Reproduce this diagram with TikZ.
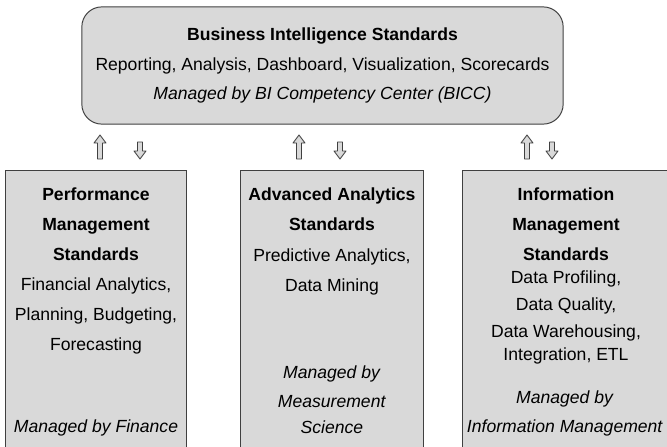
\documentclass[tikz,border=0pt]{standalone}
\usepackage{fontspec}
\setmainfont{Liberation Sans}
\usepackage{xcolor}
\usetikzlibrary{positioning}

\definecolor{boxfill}{HTML}{D9D9D9}
\definecolor{boxline}{HTML}{404040}

\begin{document}
\begin{tikzpicture}[
x=0.025cm,y=-0.025cm,
txt/.style={font=\fontsize{12.5}{21.3}\selectfont,align=center,inner sep=0pt},
topbox/.style={txt,draw=boxline,fill=boxfill,line width=0.7pt,rounded corners=0.5cm,minimum width=12.03cm,minimum height=2.93cm},
colbox/.style={draw=boxline,fill=boxfill,line width=0.7pt,anchor=north,minimum height=7.5cm},
arrbody/.style={draw=boxline,fill=boxfill,line width=0.6pt,line join=round},
uparr/.pic={\path[arrbody] (0,0) -- (6,8) -- (2.5,8) -- (2.5,24) -- (-2.5,24) -- (-2.5,8) -- (-6,8) -- cycle;},
downarr/.pic={\path[arrbody] (0,0) -- (6,-8) -- (2.5,-8) -- (2.5,-17) -- (-2.5,-17) -- (-2.5,-8) -- (-6,-8) -- cycle;}
]
\useasboundingbox (0,0) rectangle (667,447);

% BI standards on top
\node[topbox] (bi) at (322.5,65.5) {\textbf{Business Intelligence Standards}\\Reporting, Analysis, Dashboard, Visualization, Scorecards\\\textit{Managed by BI Competency Center (BICC)}};

% the three standards columns
\node[colbox,minimum width=4.5cm] (pm) at (96,170) {};
\node[colbox,minimum width=4.55cm] (aa) at (332,170) {};
\node[colbox,minimum width=5.15cm] (im) at (566,170) {};

\node[txt,below=0.44cm of pm.north] (pmtext) {\textbf{Performance}\\\textbf{Management}\\\textbf{Standards}\\Financial Analytics,\\Planning, Budgeting,\\Forecasting};
\node[txt,anchor=base] (pmby) at (96,432.6) {\textit{Managed by Finance}};

\node[txt,below=0.44cm of aa.north] (aatext) {\textbf{Advanced Analytics}\\\textbf{Standards}\\[1pt]Predictive Analytics,\\Data Mining};
\node[txt,anchor=north] (aaby) at (332,365) {\textit{Managed by}\\\textit{Measurement}\\[-3.5pt]\textit{Science}};

\node[txt,below=0.44cm of im.north] (imtext) {\textbf{Information}\\\textbf{Management}\\\textbf{Standards}\\[-5pt]Data Profiling,\\[-2pt]Data Quality,\\[-2pt]Data Warehousing,\\[-5pt]Integration, ETL};
\node[txt,anchor=north] (imby) at (565,390) {\textit{Managed by}\\\textit{Information Management}};

% up/down block arrows between the layers
\foreach \ux/\dx in {100/140, 299/340, 527/552} {
  \pic at (\ux,135) {uparr};
  \pic at (\dx,159) {downarr};
}
\end{tikzpicture}
\end{document}
